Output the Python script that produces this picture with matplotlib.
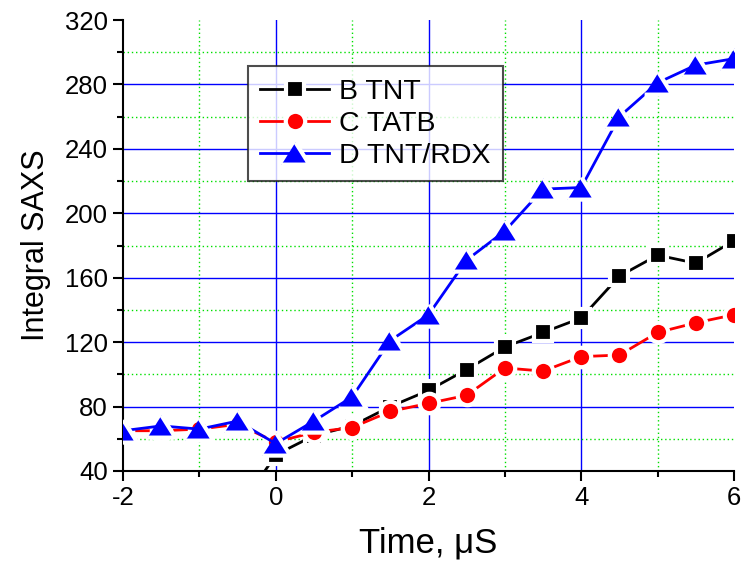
import numpy as np
import matplotlib
matplotlib.use('Agg')
from matplotlib import pyplot as plt
from matplotlib.markers import MarkerStyle
from matplotlib.ticker import MultipleLocator

plt.rcParams['font.family'] = ['Liberation Sans', 'DejaVu Sans']

# time, microseconds
time = [-2, -1.5, -1, -0.5, 0, 0.5, 1, 1.5, 2, 2.5, 3, 3.5, 4, 4.5, 5, 5.5, 6]

# B TNT starts below the axis (only the 0 us point onwards is visible)
tnt_time = [-0.5, 0, 0.5, 1, 1.5, 2, 2.5, 3, 3.5, 4, 4.5, 5, 5.5, 6]
tnt = [15, 50, 62, 68, 80, 90, 103, 117, 126, 135, 161, 174, 169, 183]
tatb = [65, 65, 66, 69, 58, 64, 67, 77, 82, 87, 104, 102, 111, 112, 126, 132, 137]
tnt_rdx = [65, 68, 66, 71, 57, 71, 86, 121, 137, 171, 189, 215, 216, 260, 281, 292, 296]

fig = plt.figure(figsize=(7.43, 5.67), dpi=100)
ax = fig.add_axes([123/743, 1 - 471/567, 611/743, 451/567])

ax.set_xlim(-2, 6)
ax.set_ylim(40, 320)

# grid (Origin style: no lines on the axis limits)
for x in [0, 2, 4]:
    ax.axvline(x, color='#0000ff', lw=1.0, zorder=0)
for x in [-1, 1, 3, 5]:
    ax.axvline(x, color='#00e000', lw=1.0, ls=(0, (1, 2)), zorder=0)
for y in range(80, 320, 40):
    ax.axhline(y, color='#0000ff', lw=1.0, zorder=0)
for y in range(60, 320, 40):
    ax.axhline(y, color='#00e000', lw=1.0, ls=(0, (1, 2)), zorder=0)

tri = MarkerStyle([(-1, -0.8), (1, -0.8), (0, 0.8)], joinstyle='round')
sq = MarkerStyle('s')
circ = MarkerStyle('o')

ax.plot(tnt_time, tnt, color='black', lw=2, marker=sq, ms=13,
        mfc='black', mec='white', mew=3, label='B TNT', zorder=3)
ax.plot(time, tatb, color='red', lw=2, marker=circ, ms=14,
        mfc='red', mec='white', mew=3, label='C TATB', zorder=4)
ax.plot(time, tnt_rdx, color='blue', lw=2, marker=tri, ms=20,
        mfc='blue', mec='white', mew=3, label='D TNT/RDX', zorder=5)

ax.spines['top'].set_visible(False)
ax.spines['right'].set_visible(False)
ax.spines['left'].set_linewidth(1.5)
ax.spines['bottom'].set_linewidth(1.5)

ax.xaxis.set_major_locator(MultipleLocator(2))
ax.xaxis.set_minor_locator(MultipleLocator(1))
ax.yaxis.set_major_locator(MultipleLocator(40))
ax.yaxis.set_minor_locator(MultipleLocator(20))
ax.tick_params(which='major', direction='out', length=7, width=1.5, labelsize=18.5, pad=4)
ax.tick_params(which='minor', direction='out', length=4.5, width=1.5)
ax.set_xticks([-2, 0, 2, 4, 6])
ax.set_xticklabels(['-2', '0', '2', '4', '6'])

ax.set_xlabel('Time, μS', fontsize=25, labelpad=12)
ax.set_ylabel('Integral SAXS', fontsize=22, labelpad=10)

leg = ax.legend(loc='upper left', bbox_to_anchor=(0.204, 0.897), fontsize=20.5,
                frameon=True, fancybox=False, edgecolor='#202020',
                handlelength=2.4, handletextpad=0.35, labelspacing=0.2,
                borderpad=0.45, borderaxespad=0)
leg.get_frame().set_linewidth(1.5)

fig.savefig('out.png', dpi=100)
